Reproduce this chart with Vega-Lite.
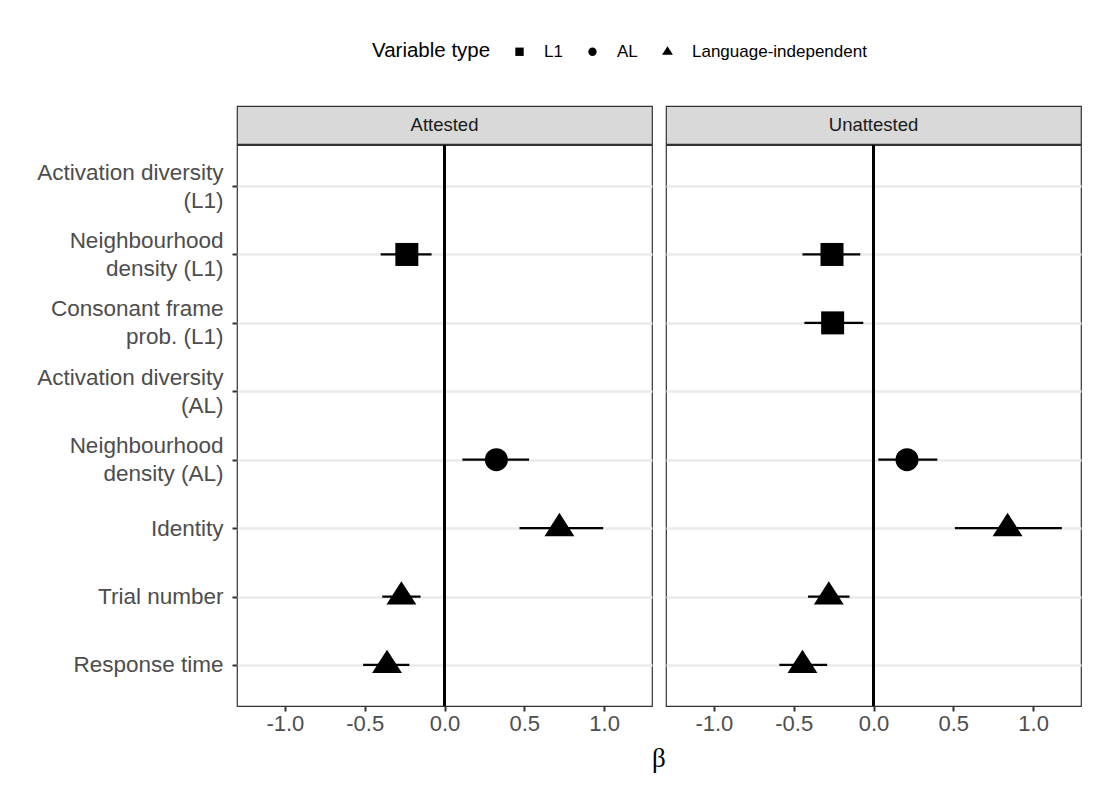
{
  "$schema": "https://vega.github.io/schema/vega-lite/v6.json",
  "padding": {"left": 36, "top": 43, "right": 23, "bottom": 14},
  "background": "white",
  "data": {"values": [
    {"panel": "Attested", "variable": "Neighbourhood|density (L1)", "vtype": "L1", "est": -0.236, "lo": -0.40, "hi": -0.081},
    {"panel": "Attested", "variable": "Neighbourhood|density (AL)", "vtype": "AL", "est": 0.325, "lo": 0.112, "hi": 0.53},
    {"panel": "Attested", "variable": "Identity", "vtype": "Language-independent", "est": 0.72, "lo": 0.47, "hi": 0.994},
    {"panel": "Attested", "variable": "Trial number", "vtype": "Language-independent", "est": -0.27, "lo": -0.39, "hi": -0.15},
    {"panel": "Attested", "variable": "Response time", "vtype": "Language-independent", "est": -0.36, "lo": -0.51, "hi": -0.22},
    {"panel": "Unattested", "variable": "Neighbourhood|density (L1)", "vtype": "L1", "est": -0.26, "lo": -0.445, "hi": -0.083},
    {"panel": "Unattested", "variable": "Consonant frame|prob. (L1)", "vtype": "L1", "est": -0.256, "lo": -0.433, "hi": -0.064},
    {"panel": "Unattested", "variable": "Neighbourhood|density (AL)", "vtype": "AL", "est": 0.21, "lo": 0.03, "hi": 0.40},
    {"panel": "Unattested", "variable": "Identity", "vtype": "Language-independent", "est": 0.84, "lo": 0.51, "hi": 1.18},
    {"panel": "Unattested", "variable": "Trial number", "vtype": "Language-independent", "est": -0.28, "lo": -0.41, "hi": -0.15},
    {"panel": "Unattested", "variable": "Response time", "vtype": "Language-independent", "est": -0.445, "lo": -0.59, "hi": -0.29}
  ]},
  "title": {"text": "β", "orient": "bottom", "anchor": "middle", "font": "Liberation Serif", "fontSize": 27, "fontWeight": "normal", "color": "black", "dx": 100, "offset": 11},
  "resolve": {"scale": {"shape": "shared"}, "legend": {"shape": "shared"}},
  "spacing": 12,
  "hconcat": [
    {
      "spacing": -2,
      "resolve": {"scale": {"shape": "shared"}, "legend": {"shape": "shared"}},
      "vconcat": [
        {
          "width": 415, "height": 38,
          "data": {"values": [{"label": "Attested"}]},
          "view": {"fill": "#D9D9D9", "stroke": "#333333", "strokeWidth": 1.2},
          "mark": {"type": "text", "fontSize": 18.5, "color": "#1A1A1A", "font": "Liberation Sans"},
          "encoding": {"text": {"field": "label", "type": "nominal"}}
        },
        {
          "width": 415, "height": 561,
          "transform": [{"filter": "datum.panel === 'Attested'"}],
          "layer": [
            {
              "mark": {"type": "rule", "color": "black", "strokeWidth": 2.5},
              "encoding": {"x": {"datum": 0, "type": "quantitative", "scale": {"domain": [-1.3, 1.3], "nice": false, "zero": false}}}
            },
            {
              "mark": {"type": "rule", "color": "black", "strokeWidth": 2.3},
              "encoding": {
                "x": {"field": "lo", "type": "quantitative"},
                "x2": {"field": "hi"},
                "y": {"field": "variable", "type": "nominal"}
              }
            },
            {
              "mark": {"type": "point", "filled": true, "opacity": 1, "color": "black", "size": 529},
              "encoding": {
                "x": {"field": "est", "type": "quantitative", "scale": {"domain": [-1.3, 1.3], "nice": false, "zero": false},
                  "axis": {"values": [-1, -0.5, 0, 0.5, 1], "labelExpr": "(datum.value < 0 ? '-' : '') + format(abs(datum.value), '.1f')", "title": null, "grid": false, "domain": false, "tickColor": "#333333", "tickWidth": 2, "tickSize": 5, "labelFontSize": 22, "labelColor": "#4D4D4D", "labelPadding": 2, "labelFont": "Liberation Sans"}},
                "y": {"field": "variable", "type": "nominal", "sort": null,
                  "scale": {"type": "point", "padding": 0.6, "domain": ["Activation diversity|(L1)", "Neighbourhood|density (L1)", "Consonant frame|prob. (L1)", "Activation diversity|(AL)", "Neighbourhood|density (AL)", "Identity", "Trial number", "Response time"]},
                  "axis": {"title": null, "labelExpr": "split(datum.label, '|')", "labelBaseline": {"condition": {"test": "indexof(datum.value, '|') >= 0", "value": "line-bottom"}, "value": "middle"}, "labelFontSize": 22.5, "labelLineHeight": 28, "labelColor": "#4D4D4D", "labelFont": "Liberation Sans", "labelLimit": 400, "labelPadding": 9, "tickColor": "#333333", "tickWidth": 2, "tickSize": 5, "domain": false, "grid": true, "gridColor": "#EBEBEB", "gridWidth": 2.5}},
                "shape": {"field": "vtype", "type": "nominal",
                  "scale": {"domain": ["L1", "AL", "Language-independent"], "range": ["square", "circle", "M0,-1.33L1.3,0.7L-1.3,0.7Z"]},
                  "legend": {"title": "Variable type", "orient": "none", "legendX": 135, "legendY": -63, "direction": "horizontal", "titleOrient": "left", "titleFontSize": 20.5, "titleFontWeight": "normal", "titleColor": "black", "titleFont": "Liberation Sans", "titlePadding": 20, "labelFontSize": 17, "labelColor": "black", "labelFont": "Liberation Sans", "labelLimit": 300, "symbolSize": 70, "symbolFillColor": "black", "symbolStrokeColor": "black", "labelOffset": 16, "columnPadding": 21}}
              }
            }
          ]
        }
      ]
    },
    {
      "spacing": -2,
      "resolve": {"scale": {"shape": "shared"}, "legend": {"shape": "shared"}},
      "vconcat": [
        {
          "width": 415, "height": 38,
          "data": {"values": [{"label": "Unattested"}]},
          "view": {"fill": "#D9D9D9", "stroke": "#333333", "strokeWidth": 1.2},
          "mark": {"type": "text", "fontSize": 18.5, "color": "#1A1A1A", "font": "Liberation Sans"},
          "encoding": {"text": {"field": "label", "type": "nominal"}}
        },
        {
          "width": 415, "height": 561,
          "transform": [{"filter": "datum.panel === 'Unattested'"}],
          "layer": [
            {
              "mark": {"type": "rule", "color": "black", "strokeWidth": 2.5},
              "encoding": {"x": {"datum": 0, "type": "quantitative", "scale": {"domain": [-1.3, 1.3], "nice": false, "zero": false}}}
            },
            {
              "mark": {"type": "rule", "color": "black", "strokeWidth": 2.3},
              "encoding": {
                "x": {"field": "lo", "type": "quantitative"},
                "x2": {"field": "hi"},
                "y": {"field": "variable", "type": "nominal"}
              }
            },
            {
              "mark": {"type": "point", "filled": true, "opacity": 1, "color": "black", "size": 529},
              "encoding": {
                "x": {"field": "est", "type": "quantitative", "scale": {"domain": [-1.3, 1.3], "nice": false, "zero": false},
                  "axis": {"values": [-1, -0.5, 0, 0.5, 1], "labelExpr": "(datum.value < 0 ? '-' : '') + format(abs(datum.value), '.1f')", "title": null, "grid": false, "domain": false, "tickColor": "#333333", "tickWidth": 2, "tickSize": 5, "labelFontSize": 22, "labelColor": "#4D4D4D", "labelPadding": 2, "labelFont": "Liberation Sans"}},
                "y": {"field": "variable", "type": "nominal", "sort": null,
                  "scale": {"type": "point", "padding": 0.6, "domain": ["Activation diversity|(L1)", "Neighbourhood|density (L1)", "Consonant frame|prob. (L1)", "Activation diversity|(AL)", "Neighbourhood|density (AL)", "Identity", "Trial number", "Response time"]},
                  "axis": {"title": null, "labels": false, "ticks": false, "domain": false, "grid": true, "gridColor": "#EBEBEB", "gridWidth": 2.5, "minExtent": 0, "maxExtent": 0}},
                "shape": {"field": "vtype", "type": "nominal",
                  "scale": {"domain": ["L1", "AL", "Language-independent"], "range": ["square", "circle", "M0,-1.33L1.3,0.7L-1.3,0.7Z"]},
                  "legend": {"title": "Variable type", "orient": "none", "legendX": 135, "legendY": -63, "direction": "horizontal", "titleOrient": "left", "titleFontSize": 20.5, "titleFontWeight": "normal", "titleColor": "black", "titleFont": "Liberation Sans", "titlePadding": 20, "labelFontSize": 17, "labelColor": "black", "labelFont": "Liberation Sans", "labelLimit": 300, "symbolSize": 70, "symbolFillColor": "black", "symbolStrokeColor": "black", "labelOffset": 16, "columnPadding": 21}}
              }
            }
          ]
        }
      ]
    }
  ],
  "config": {
    "font": "Liberation Sans",
    "view": {"stroke": "#333333", "strokeWidth": 1.2},
    "concat": {"spacing": 12}
  }
}
